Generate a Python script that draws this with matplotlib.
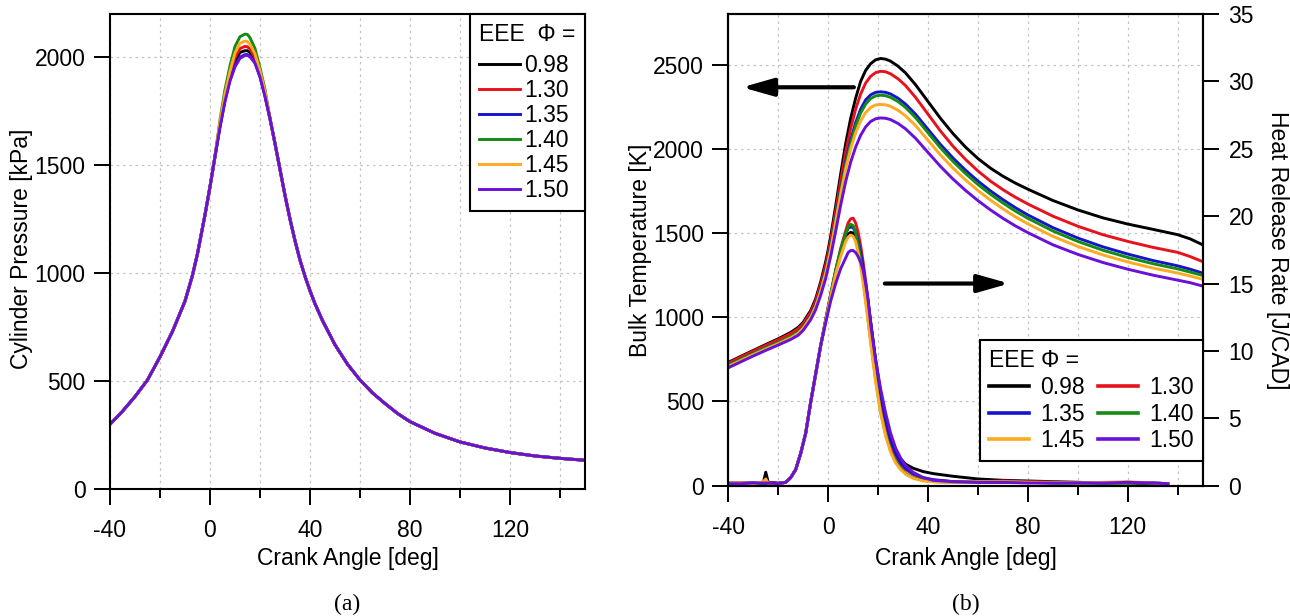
import matplotlib
matplotlib.use('Agg')
import matplotlib.pyplot as plt
from matplotlib.ticker import MultipleLocator
from matplotlib.lines import Line2D

plt.rcParams['font.family'] = ['Liberation Sans', 'DejaVu Sans']
plt.rcParams['axes.unicode_minus'] = False

# ---------------- data ----------------
PHI_LABELS = ['0.98', '1.30', '1.35', '1.40', '1.45', '1.50']
COLORS = ['#000000', '#e8121c', '#1414cc', '#148c14', '#ffaa22', '#6a10d8']

# (a) cylinder pressure [kPa]
CA_P_RISE = [-40, -35, -30, -25, -20, -15, -10, -7, -5, -3, -2, -1, 0, 1, 2]
P_RISE = [300, 360, 428, 505, 612, 730, 870, 990, 1090, 1210, 1270, 1335, 1400, 1470, 1540]
CA_P_PEAK = [4, 6, 8, 10, 12, 14, 15, 16, 18, 20, 22]
P_PEAK_098 = [1685, 1810, 1910, 1983, 2022, 2030, 2030, 2022, 1988, 1918, 1826]
P_PEAK_130 = [1690, 1820, 1920, 1998, 2040, 2050, 2048, 2038, 1998, 1925, 1832]
P_PEAK_135 = [1680, 1800, 1895, 1962, 2000, 2012, 2012, 2005, 1975, 1910, 1820]
P_PEAK_140 = [1710, 1850, 1960, 2050, 2095, 2107, 2105, 2090, 2040, 1950, 1850]
P_PEAK_145 = [1700, 1830, 1935, 2020, 2065, 2075, 2072, 2060, 2015, 1935, 1840]
P_PEAK_150 = [1675, 1795, 1890, 1955, 1995, 2008, 2008, 2002, 1972, 1908, 1818]
CA_P_FALL = [24, 26, 28, 30, 32, 34, 36, 38, 40, 42, 45, 50, 55, 60, 65, 70, 75, 80,
             90, 100, 110, 120, 130, 140, 150]
P_FALL = [1715, 1600, 1480, 1360, 1250, 1150, 1060, 985, 918, 858, 780, 668, 578, 505, 445,
          396, 350, 312, 258, 218, 190, 169, 153, 142, 133]

# (b) bulk temperature [K]
CA_T = [-40, -35, -30, -25, -20, -15, -12, -10, -7, -5, -3, -1, 0, 1, 3, 5, 7, 9, 11, 13, 15, 17,
        19, 21, 23, 25, 28, 31, 35, 40, 45, 50, 55, 60, 65, 70, 75, 80, 90, 100, 110, 120, 130,
        140, 145, 150]
T_098 = [732, 768, 803, 838, 872, 910, 940, 970, 1040, 1110, 1210, 1330, 1400, 1480, 1660, 1850, 2030,
         2180, 2300, 2400, 2465, 2505, 2528, 2536, 2532, 2520, 2490, 2450, 2380, 2280, 2180, 2090, 2010,
         1942, 1885, 1837, 1796, 1760, 1693, 1637, 1590, 1553, 1522, 1490, 1465, 1430]
T_130 = [728, 764, 799, 833, 867, 903, 932, 962, 1030, 1098, 1195, 1310, 1380, 1455, 1630, 1810, 1980,
         2120, 2235, 2325, 2390, 2430, 2452, 2460, 2457, 2445, 2415, 2375, 2305, 2205, 2105, 2015, 1937,
         1868, 1808, 1757, 1712, 1672, 1600, 1540, 1490, 1450, 1415, 1385, 1360, 1330]
T_135 = [715, 750, 785, 818, 850, 885, 912, 942, 1010, 1075, 1170, 1280, 1350, 1420, 1590, 1760, 1920,
         2050, 2155, 2235, 2290, 2320, 2335, 2338, 2335, 2325, 2300, 2265, 2205, 2115, 2025, 1945, 1873,
         1808, 1750, 1698, 1650, 1607, 1532, 1470, 1418, 1375, 1337, 1305, 1285, 1262]
T_140 = [715, 750, 785, 818, 850, 885, 912, 940, 1005, 1068, 1162, 1272, 1340, 1410, 1580, 1748, 1905,
         2030, 2135, 2212, 2265, 2298, 2314, 2318, 2315, 2305, 2280, 2245, 2185, 2095, 2005, 1925, 1853,
         1788, 1730, 1678, 1630, 1587, 1512, 1450, 1398, 1355, 1318, 1287, 1268, 1248]
T_145 = [708, 743, 778, 811, 843, 877, 904, 934, 1000, 1063, 1155, 1262, 1330, 1400, 1565, 1730, 1880,
         2000, 2095, 2165, 2215, 2245, 2260, 2263, 2261, 2252, 2228, 2195, 2138, 2050, 1963, 1885, 1815,
         1752, 1695, 1643, 1596, 1554, 1480, 1420, 1370, 1328, 1292, 1262, 1245, 1225]
T_150 = [700, 735, 770, 803, 835, 868, 893, 922, 985, 1045, 1130, 1230, 1295, 1360, 1510, 1665, 1805,
         1920, 2010, 2080, 2130, 2162, 2178, 2183, 2181, 2173, 2150, 2118, 2062, 1978, 1895, 1820, 1753,
         1692, 1637, 1587, 1542, 1502, 1430, 1373, 1325, 1285, 1250, 1220, 1205, 1185]

# (b) heat release rate [J/CAD]
CA_H = [-40, -35, -30, -26, -25, -24, -20, -17, -15, -13, -11, -9, -7, -5, -3, -1, 1, 3, 5, 7,
        8, 9, 10, 11, 12, 13, 14, 15, 16, 17, 19, 21, 23, 25, 27, 29, 31, 34, 38, 42,
        50, 60, 70, 80, 90, 100, 110, 120, 130, 136]
H_098 = [0.2, 0.2, 0.2, 0.2, 1.0, 0.25, 0.2, 0.25, 0.6, 1.2, 2.4, 3.9, 6.2, 8.3, 10.4, 12.2,
         14.0, 15.8, 17.2, 18.3, 18.65, 18.8, 18.75, 18.4, 17.8, 17.0, 16.0, 14.8, 13.5, 12.1,
         9.3, 6.9, 5.0, 3.6, 2.6, 2.0, 1.6, 1.3, 1.05, 0.9, 0.7, 0.5, 0.4, 0.35, 0.3, 0.25, 0.2, 0.2, 0.15, 0.15]
H_130 = [0.15, 0.2, 0.15, 0.2, 0.2, 0.2, 0.15, 0.25, 0.6, 1.2, 2.4, 3.9, 6.2, 8.3, 10.4, 12.3,
         14.2, 16.0, 17.6, 18.9, 19.5, 19.8, 19.85, 19.5, 18.8, 17.8, 16.6, 15.2, 13.7, 12.1,
         9.0, 6.5, 4.6, 3.2, 2.2, 1.6, 1.2, 0.85, 0.55, 0.4, 0.3, 0.3, 0.35, 0.3, 0.25, 0.25, 0.2, 0.25, 0.2, 0.15]
H_135 = [0.15, 0.15, 0.2, 0.15, 0.15, 0.2, 0.15, 0.25, 0.6, 1.2, 2.4, 3.9, 6.2, 8.3, 10.4, 12.3,
         14.1, 15.9, 17.4, 18.7, 19.1, 19.2, 19.15, 18.8, 18.2, 17.3, 16.2, 15.0, 13.6, 12.2,
         9.3, 6.8, 4.9, 3.4, 2.4, 1.7, 1.3, 0.9, 0.6, 0.45, 0.3, 0.25, 0.25, 0.25, 0.2, 0.2, 0.2, 0.25, 0.2, 0.15]
H_140 = [0.15, 0.15, 0.15, 0.2, 0.2, 0.15, 0.15, 0.25, 0.6, 1.2, 2.4, 3.9, 6.2, 8.3, 10.4, 12.3,
         14.2, 16.0, 17.5, 18.7, 19.2, 19.4, 19.3, 18.8, 17.9, 16.8, 15.4, 13.9, 12.3, 10.8,
         7.9, 5.5, 3.8, 2.6, 1.8, 1.3, 0.9, 0.6, 0.4, 0.3, 0.25, 0.3, 0.3, 0.25, 0.2, 0.2, 0.2, 0.2, 0.2, 0.15]
H_145 = [0.15, 0.2, 0.15, 0.3, 0.5, 0.2, 0.15, 0.25, 0.6, 1.2, 2.4, 3.9, 6.2, 8.3, 10.4, 12.2,
         14.0, 15.7, 17.0, 18.1, 18.45, 18.6, 18.5, 18.1, 17.3, 16.3, 15.0, 13.6, 12.1, 10.6,
         7.7, 5.4, 3.7, 2.5, 1.7, 1.2, 0.85, 0.55, 0.35, 0.3, 0.25, 0.3, 0.3, 0.25, 0.25, 0.2, 0.25, 0.3, 0.2, 0.15]
H_150 = [0.15, 0.15, 0.2, 0.2, 0.2, 0.2, 0.15, 0.25, 0.6, 1.2, 2.4, 3.9, 6.2, 8.3, 10.4, 12.1,
         13.7, 15.0, 16.1, 16.9, 17.3, 17.45, 17.45, 17.3, 17.0, 16.6, 16.0, 15.0, 13.8, 12.0,
         9.3, 7.2, 5.4, 3.9, 2.8, 2.05, 1.5, 1.0, 0.6, 0.4, 0.3, 0.25, 0.25, 0.2, 0.2, 0.2, 0.2, 0.25, 0.2, 0.15]

P_PEAKS = [P_PEAK_098, P_PEAK_130, P_PEAK_135, P_PEAK_140, P_PEAK_145, P_PEAK_150]
T_SERIES = [T_098, T_130, T_135, T_140, T_145, T_150]
H_SERIES = [H_098, H_130, H_135, H_140, H_145, H_150]

# ---------------- figure ----------------
W, H = 1290, 616
fig = plt.figure(figsize=(W / 100, H / 100), dpi=100)

FS = 16.5
LFS = 16.5
LW = 2.1
GRID = dict(color='#c4c4c4', linestyle=(0, (2, 3)), linewidth=0.9)


def style_axes(ax):
    ax.set_xlim(-40, 150)
    ax.xaxis.set_major_locator(MultipleLocator(40))
    ax.xaxis.set_minor_locator(MultipleLocator(20))
    ax.tick_params(axis='x', which='major', direction='out', length=11.5, width=1.4,
                   labelsize=FS, pad=10, top=False)
    ax.tick_params(axis='x', which='minor', direction='out', length=6.5, width=1.4, top=False)
    ax.tick_params(axis='y', which='major', direction='out', length=11.5, width=1.4,
                   labelsize=FS, pad=6, right=False)
    for s in ax.spines.values():
        s.set_linewidth(1.5)
    ax.grid(True, axis='x', which='both', **GRID)
    ax.grid(True, axis='y', which='major', **GRID)
    ax.set_axisbelow(True)


# ----- (a) -----
axa = fig.add_axes([110 / W, 1 - 489 / H, 475 / W, 475 / H])
style_axes(axa)
axa.set_ylim(0, 2200)
axa.yaxis.set_major_locator(MultipleLocator(500))
for lab, col, pk in zip(PHI_LABELS, COLORS, P_PEAKS):
    x = CA_P_RISE + CA_P_PEAK + CA_P_FALL
    y = P_RISE + pk + P_FALL
    axa.plot(x, y, color=col, lw=LW, label=lab, solid_joinstyle='round')

lega = axa.legend(title='EEE  \u03a6 =', loc='upper right', bbox_to_anchor=(1.0, 1.0),
                  borderaxespad=0, fancybox=False, edgecolor='black', framealpha=1,
                  fontsize=LFS, title_fontsize=LFS, handlelength=1.75, handletextpad=0.22,
                  labelspacing=0.08, borderpad=0.4, alignment='left')
lega.get_frame().set_linewidth(1.5)
lega._legend_box.sep = 6

# ----- (b) -----
axb = fig.add_axes([728.3 / W, 1 - 485.7 / H, 474.4 / W, 471.7 / H])
style_axes(axb)
axb.set_ylim(0, 2800)
axb.yaxis.set_major_locator(MultipleLocator(500))
axh = axb.twinx()
axh.set_ylim(0, 35)
axh.yaxis.set_major_locator(MultipleLocator(5))
axh.tick_params(axis='y', which='major', direction='out', length=11.5, width=1.4,
                labelsize=FS, pad=7)
for s in axh.spines.values():
    s.set_linewidth(1.5)

for col, t in zip(COLORS, T_SERIES):
    axb.plot(CA_T, t, color=col, lw=LW, solid_joinstyle='round')
for col, h in zip(COLORS, H_SERIES):
    axh.plot(CA_H, h, color=col, lw=LW, solid_joinstyle='round')

ARROW = dict(arrowstyle='-|>,head_length=0.95,head_width=0.27', color='black', lw=3,
             mutation_scale=20, shrinkA=0, shrinkB=0)
axb.annotate('', xy=(-34.5, 2365), xytext=(10.3, 2365), arrowprops=ARROW)
axh.annotate('', xy=(72.5, 15.0), xytext=(22.7, 15.0), arrowprops=ARROW)

# row-wise legend order: 0.98 1.30 / 1.35 1.40 / 1.45 1.50
ORDER = [0, 2, 4, 1, 3, 5]
handles = [Line2D([], [], color=COLORS[i], lw=2.6) for i in ORDER]
labels = [PHI_LABELS[i] for i in ORDER]
legb = axh.legend(handles, labels, title='EEE \u03a6 =', ncol=2, loc='lower right',
                  bbox_to_anchor=(1.0, 0.052), borderaxespad=0, fancybox=False,
                  edgecolor='black', framealpha=1, fontsize=LFS, title_fontsize=LFS,
                  handlelength=1.75, handletextpad=0.5, labelspacing=0.17, borderpad=0.38,
                  columnspacing=0.55, alignment='left')
legb.get_frame().set_linewidth(1.5)


# ----- labels -----
def ftext(x, y, s, fs=FS, **kw):
    fig.text(x / W, 1 - y / H, s, ha='center', va='center', fontsize=fs, **kw)


ftext(22, 249, 'Cylinder Pressure [kPa]', rotation=90)
ftext(347.5, 559, 'Crank Angle [deg]')
ftext(640, 250, 'Bulk Temperature [K]', rotation=90)
ftext(1278, 250, 'Heat Release Rate [J/CAD]', rotation=270)
ftext(965.5, 559, 'Crank Angle [deg]')
ftext(347.5, 604, '(a)', fs=17, family='Liberation Serif')
ftext(965.5, 604, '(b)', fs=17, family='Liberation Serif')

fig.savefig('out.png', dpi=100)
